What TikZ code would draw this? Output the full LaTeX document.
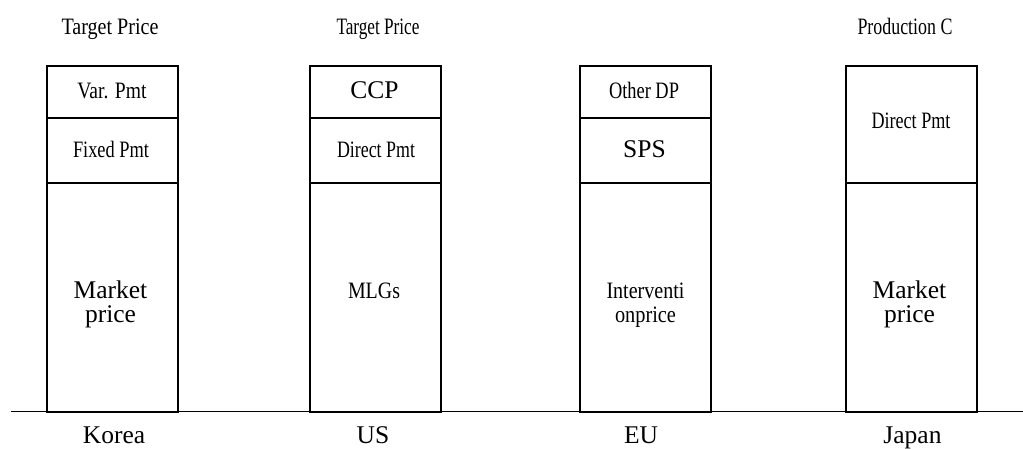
\documentclass[tikz,border=0pt]{standalone}
\usepackage{fontspec}
\usepackage{graphicx}
\setmainfont{Liberation Serif}
\newcommand\cw[2]{\resizebox{#1}{\height}{#2}}
\begin{document}
\begin{tikzpicture}[x=1pt,y=-1pt,
  seg/.style={draw,line width=1.8pt,anchor=north west,inner sep=0pt,minimum width=131pt},
  cond/.style={anchor=base,inner sep=0pt,font=\fontsize{23.5}{23.5}\selectfont},
  norm/.style={anchor=base,inner sep=0pt,font=\fontsize{25.5}{25.5}\selectfont}]
\useasboundingbox (0,0) rectangle (1023,448);
% boxes
\foreach \n/\x in {k/46,u/309,e/579} {
  \node[seg,minimum height=52pt] (\n1) at (\x,65) {};
  \node[seg,minimum height=65pt] (\n2) at (\x,117) {};
  \node[seg,minimum height=229.5pt] (\n3) at (\x,182) {};
}
\node[seg,minimum height=117pt] (j2) at (845,65) {};
\node[seg,minimum height=229.5pt] (j3) at (845,182) {};
% ground line
\coordinate (gl) at (11,411.5);
\coordinate (gr) at (1023,411.5);
\draw[line width=1.8pt] (gl) -- (gr);
% top labels
\node[cond] (tk) at (110,34) {\cw{97pt}{Target Price}};
\node[cond] (tu) at (378,34) {\cw{83pt}{Target Price}};
\node[cond] (tj) at (905,34) {\cw{95pt}{Production C}};
% upper segment texts
\node[cond] (a1) at (112,98) {\cw{69pt}{Var. Pmt}};
\node[cond] (a2) at (111,157) {\cw{76pt}{Fixed Pmt}};
\node[norm] (b1) at (374.5,98) {CCP};
\node[cond] (b2) at (376,157) {\cw{78pt}{Direct Pmt}};
\node[cond] (c1) at (644,98) {\cw{70pt}{Other DP}};
\node[norm] (c2) at (644.5,157) {SPS};
\node[cond] (d1) at (911,128) {\cw{79pt}{Direct Pmt}};
% lower segment texts
\node[norm] (a3) at (110.5,298) {Market};
\node[norm] (a4) at (110.5,322) {price};
\node[cond] (b3) at (374,298) {\cw{52pt}{MLGs}};
\node[cond] (c3) at (645.5,298) {\cw{78pt}{Interventi}};
\node[cond] (c4) at (645.5,322) {\cw{61pt}{onprice}};
\node[norm] (d3) at (909.5,298) {Market};
\node[norm] (d4) at (909.5,322) {price};
% bottom labels
\node[norm] (bk) at (114,443) {Korea};
\node[norm] (bu) at (373,443) {US};
\node[norm] (be) at (641,443) {EU};
\node[norm] (bj) at (912.5,443) {Japan};
\end{tikzpicture}
\end{document}
